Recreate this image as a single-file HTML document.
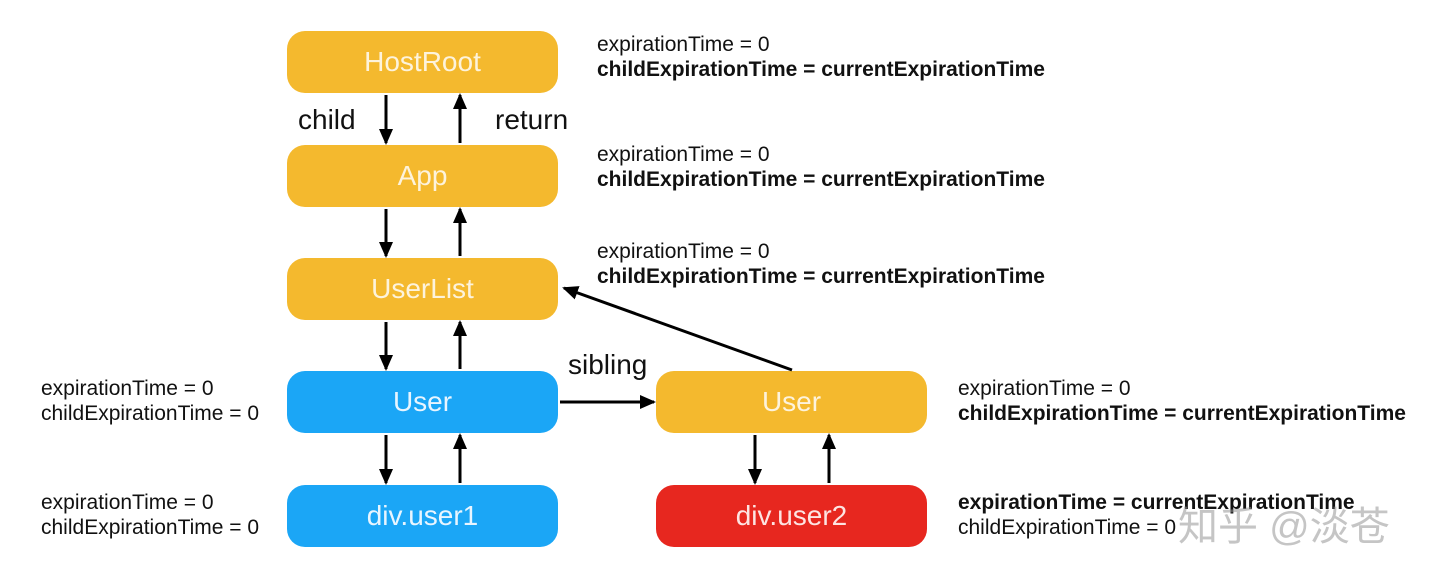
<!DOCTYPE html>
<html><head><style>
body{margin:0;width:1440px;height:575px;background:#fff;position:relative;overflow:hidden;font-family:"Liberation Sans",sans-serif}
.b{position:absolute;width:271px;height:62px;border-radius:18px;color:#fdf3dc;font-size:28px;display:flex;align-items:center;justify-content:center}
.o{background:#f4b92e}.bl{background:#1ba6f6;color:#e8f5ff}.r{background:#e7271f;color:#fde4e2}
.t{position:absolute;font-size:21px;line-height:25px;color:#111;white-space:nowrap}
.t b{font-weight:bold}
.l{position:absolute;font-size:28px;color:#111}
</style></head><body>
<div class="b o" style="left:287px;top:31px">HostRoot</div>
<div class="b o" style="left:287px;top:145px">App</div>
<div class="b o" style="left:287px;top:258px">UserList</div>
<div class="b bl" style="left:287px;top:371px">User</div>
<div class="b bl" style="left:287px;top:485px">div.user1</div>
<div class="b o" style="left:656px;top:371px">User</div>
<div class="b r" style="left:656px;top:485px">div.user2</div>
<svg width="1440" height="575" style="position:absolute;left:0;top:0">
<defs><marker id="m" markerWidth="16" markerHeight="14" refX="14" refY="7" orient="auto" markerUnits="userSpaceOnUse"><path d="M0,0L16,7L0,14z" fill="#000"/></marker></defs>
<g stroke="#000" stroke-width="3" marker-end="url(#m)">
<line x1="386" y1="95" x2="386" y2="143"/><line x1="460" y1="143" x2="460" y2="95"/>
<line x1="386" y1="209" x2="386" y2="256"/><line x1="460" y1="256" x2="460" y2="209"/>
<line x1="386" y1="322" x2="386" y2="369"/><line x1="460" y1="369" x2="460" y2="322"/>
<line x1="386" y1="435" x2="386" y2="483"/><line x1="460" y1="483" x2="460" y2="435"/>
<line x1="755" y1="435" x2="755" y2="483"/><line x1="829" y1="483" x2="829" y2="435"/>
<line x1="560" y1="402" x2="654" y2="402"/>
<line x1="792" y1="370" x2="564" y2="288"/>
</g></svg>
<div class="l" style="left:298px;top:104px">child</div>
<div class="l" style="left:495px;top:104px">return</div>
<div class="l" style="left:568px;top:349px">sibling</div>
<div class="t" style="left:597px;top:32px">expirationTime = 0<br><b>childExpirationTime = currentExpirationTime</b></div>
<div class="t" style="left:597px;top:142px">expirationTime = 0<br><b>childExpirationTime = currentExpirationTime</b></div>
<div class="t" style="left:597px;top:239px">expirationTime = 0<br><b>childExpirationTime = currentExpirationTime</b></div>
<div class="t" style="left:41px;top:376px">expirationTime = 0<br>childExpirationTime = 0</div>
<div class="t" style="left:41px;top:490px">expirationTime = 0<br>childExpirationTime = 0</div>
<div class="t" style="left:958px;top:376px">expirationTime = 0<br><b>childExpirationTime = currentExpirationTime</b></div>
<div class="t" style="left:958px;top:490px"><b>expirationTime = currentExpirationTime</b><br>childExpirationTime = 0</div>
<div style="position:absolute;left:1178px;top:494px;font-size:40px;color:rgba(150,150,150,0.55);font-family:'Liberation Sans','Noto Sans CJK SC',sans-serif">知乎 @淡苍</div>
</body></html>
